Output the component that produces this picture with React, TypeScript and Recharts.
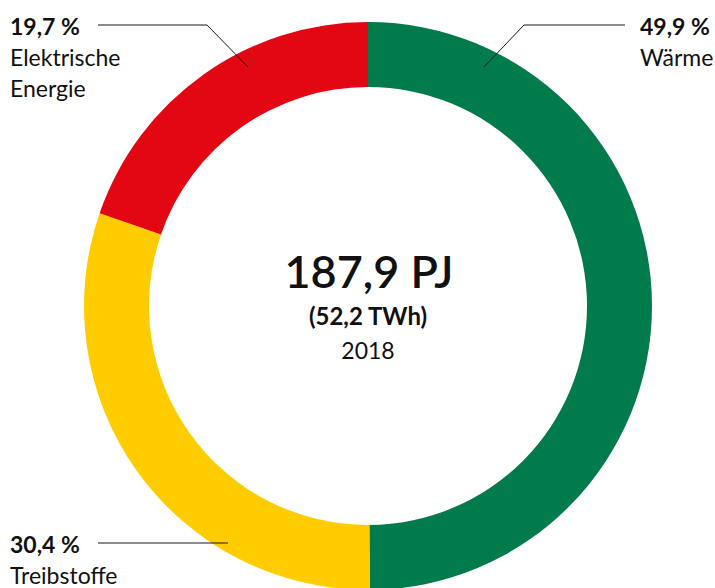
import React from 'react';
import { PieChart, Pie, Cell } from 'recharts';

// shares of final energy use, 2018
const categories = ['Wärme', 'Treibstoffe', 'Elektrische Energie'];
const shares = [49.9, 30.4, 19.7];
const colors = ['#027b4c', '#ffcc00', '#e30613'];

const totalLabel = '187,9 PJ';
const twhLabel = '(52,2 TWh)';
const yearLabel = '2018';

const data = categories.map((name, i) => ({ name, value: shares[i] }));

// where each callout sits (text start, first baseline, leader polyline)
const callouts = [
  { x: 640, y: 35, line: '484,67 524,25 625,25' },
  { x: 10, y: 553, line: '228,543 98,543' },
  { x: 10, y: 35, line: '248,67 207,25 98,25' },
];

const FONT = 'Lato, "Open Sans", sans-serif';
const LINE_H = 31;

const fmt = (v: number) => v.toFixed(1).replace('.', ',') + ' %';

const renderLabel = (props: any) => {
  const { index, name, value } = props;
  const c = callouts[index];
  if (!c) return null;
  const words = name.split(' ');
  return (
    <g>
      <polyline points={c.line} fill="none" stroke="#1a1a1a" strokeWidth={1} />
      <text x={c.x} y={c.y} fontFamily={FONT} fontSize={23} fontWeight={700} fill="#111">
        {fmt(value)}
      </text>
      {words.map((w: string, i: number) => (
        <text key={w} x={c.x} y={c.y + LINE_H * (i + 1)} fontFamily={FONT} fontSize={23} fill="#111">
          {w}
        </text>
      ))}
    </g>
  );
};

const App: React.FC = () => {
  return (
    <div style={{ position: 'absolute', left: 0, top: 0, width: 715, height: 588, background: '#fff' }}>
      <PieChart width={715} height={588} margin={{ top: 0, right: 0, bottom: 0, left: 0 }}>
        <Pie
          data={data}
          dataKey="value"
          cx={368}
          cy={306}
          innerRadius={219}
          outerRadius={284}
          startAngle={90}
          endAngle={-270}
          stroke="none"
          label={renderLabel}
          labelLine={false}
          isAnimationActive={false}
        >
          {data.map((entry, index) => (
            <Cell key={`cell-${index}`} fill={colors[index]} />
          ))}
        </Pie>
        <text x={369} y={288} textAnchor="middle" fontFamily={FONT} fontSize={45} fontWeight={600} fill="#111">
          {totalLabel}
        </text>
        <text x={368} y={325} textAnchor="middle" fontFamily={FONT} fontSize={24} fontWeight={700} fill="#111">
          {twhLabel}
        </text>
        <text x={368} y={359} textAnchor="middle" fontFamily={FONT} fontSize={23} fill="#111">
          {yearLabel}
        </text>
      </PieChart>
    </div>
  );
};

export default App;
